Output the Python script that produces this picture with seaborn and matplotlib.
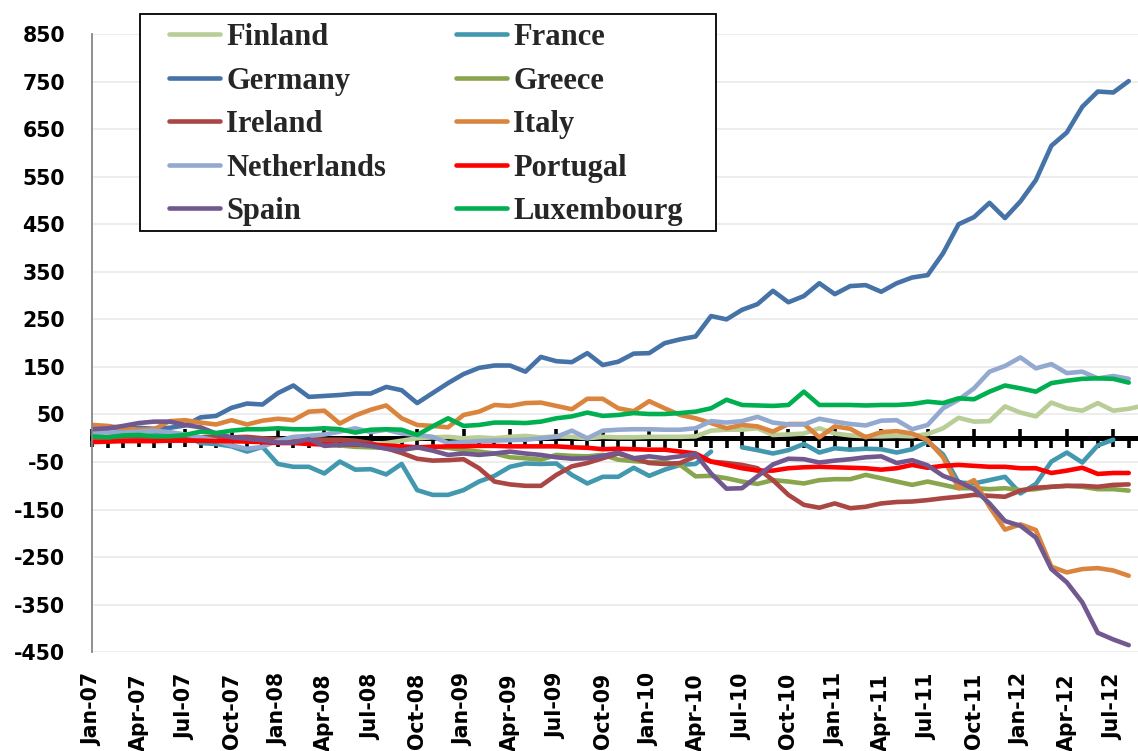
import numpy as np
import pandas as pd
import seaborn as sns
import matplotlib.pyplot as plt
from matplotlib.lines import Line2D
from matplotlib.patches import Rectangle
from matplotlib.ticker import MultipleLocator

nan = np.nan

# series order as drawn (last one ends up on top)
countries = ['Finland', 'France', 'Germany', 'Greece', 'Ireland', 'Italy',
             'Netherlands', 'Portugal', 'Spain', 'Luxembourg']

# monthly values from Jan-07 (EUR bn)
finland = [-5, -3, -2, 0, 2, 3, 3, 2, 0, -2, -3, -4,
           -5, -5, -8, -12, -15, -15, -12, -10, -5, 0, 2, 3,
           0, 2, 0, 3, 5, 2, 4, 3, 0, 3, 2, 2,
           3, 3, 3, 4, 16, 18, 18, 21, 7, 8, 10, 21,
           10, 6, 4, 4, 5, 4, 9, 21, 43, 35, 36, 67,
           54, 46, 75, 63, 58, 74, 58, 62, 69]
france = [12, 14, 15, 16, 14, 12, 5, -10, -12, -17, -28, -18,
          -54, -60, -60, -74, -49, -66, -65, -76, -54, -109, -119, -119,
          -109, -91, -79, -60, -53, -54, -53, -77, -95, -81, -81, -62,
          -79, -66, -56, -54, -28, nan, -19, -25, -32, -25, -12, -30,
          -21, -24, -22, -23, -30, -23, -7, -34, -93, -95, -88, -81,
          -116, -96, -49, -30, -51, -15, -3, nan]
germany = [18, 19, 20, 22, 20, 22, 27, 44, 47, 64, 73, 71,
           95, 111, 87, 89, 91, 94, 94, 108, 101, 74, 95, 116,
           135, 148, 153, 153, 140, 171, 162, 160, 179, 154, 161, 178,
           179, 200, 208, 214, 257, 250, 270, 282, 310, 286, 299, 326,
           303, 320, 322, 308, 326, 338, 343, 389, 450, 465, 495, 463,
           498, 543, 615, 643, 697, 729, 727, 751]
greece = [-5, -5, -4, -3, -2, -2, -3, -5, -5, -6, -5, -5,
          -8, -8, -10, -12, -15, -18, -19, -20, -22, -20, -18, -20,
          -25, -28, -32, -40, -42, -45, -35, -37, -38, -35, -45, -48,
          -50, -50, -56, -80, -79, -84, -91, -96, -88, -91, -95, -88,
          -86, -86, -77, -84, -91, -98, -91, -98, -105, -105, -107, -105,
          -109, -107, -102, -100, -102, -107, -107, -110]
ireland = [2, 3, 4, 3, 2, 2, 3, 2, 3, 2, 3, 0,
           -2, -3, -2, -3, -3, -5, -10, -21, -31, -43, -47, -46,
           -44, -63, -91, -97, -100, -100, -77, -59, -52, -42, -32, -42,
           -52, -54, -52, -38, -49, -52, -56, -63, -88, -119, -140, -146,
           -137, -147, -144, -137, -134, -133, -130, -126, -123, -119, -121, -123,
           -110, -104, -102, -100, -100, -102, -98, -97]
italy = [28, 26, 21, 18, 19, 36, 38, 33, 29, 38, 29, 37,
         41, 38, 56, 58, 31, 48, 60, 69, 42, 28, 26, 23,
         49, 56, 70, 68, 74, 75, 68, 61, 83, 83, 63, 57,
         78, 63, 49, 42, 32, 21, 28, 25, 14, 30, 30, 2,
         25, 20, 2, 13, 15, 10, -4, -40, -105, -88, -144, -192,
         -181, -193, -270, -282, -275, -273, -278, -289]
netherlands = [12, 13, 12, 14, 16, 13, 8, 2, -5, -15, -22, -18,
               -5, 3, 5, 8, 14, 21, 13, 18, 10, 7, 3, -10,
               -8, -6, -5, -4, -3, 0, 3, 16, 0, 16, 18, 19,
               19, 18, 18, 21, 36, 33, 36, 45, 33, 29, 29, 41,
               35, 30, 27, 37, 38, 19, 28, 63, 81, 105, 140, 152,
               170, 147, 156, 137, 140, 126, 131, 125]
portugal = [-8, -7, -6, -6, -6, -5, -5, -5, -6, -6, -7, -8,
            -10, -10, -12, -13, -13, -13, -14, -15, -17, -19, -18, -17,
            -17, -16, -16, -17, -17, -17, -17, -19, -20, -23, -22, -23,
            -24, -24, -28, -32, -49, -56, -63, -68, -68, -63, -61, -60,
            -61, -62, -63, -66, -63, -56, -62, -58, -56, -58, -60, -60,
            -63, -63, -73, -68, -62, -75, -73, -73]
spain = [19, 21, 26, 32, 35, 35, 28, 23, 10, 2, -1, -4,
         -9, -9, -2, -16, -14, -12, -16, -22, -25, -19, -26, -35,
         -32, -35, -32, -28, -32, -35, -40, -43, -42, -37, -30, -42,
         -38, -42, -38, -33, -74, -106, -105, -80, -55, -43, -44, -51,
         -47, -44, -40, -38, -52, -46, -57, -79, -91, -107, -137, -174,
         -184, -209, -275, -303, -345, -409, -423, -435]
luxembourg = [4, 2, 6, 7, 4, 4, 7, 14, 11, 16, 19, 19,
              21, 19, 19, 21, 19, 12, 18, 19, 18, 7, 25, 42,
              26, 28, 33, 33, 32, 35, 42, 46, 54, 47, 49, 53,
              51, 51, 53, 56, 63, 81, 70, 69, 68, 70, 98, 70,
              70, 70, 69, 70, 70, 72, 77, 74, 84, 82, 98, 111,
              105, 98, 116, 121, 125, 126, 125, 117]

tick_labels = ['Jan-07', 'Apr-07', 'Jul-07', 'Oct-07',
               'Jan-08', 'Apr-08', 'Jul-08', 'Oct-08',
               'Jan-09', 'Apr-09', 'Jul-09', 'Oct-09',
               'Jan-10', 'Apr-10', 'Jul-10', 'Oct-10',
               'Jan-11', 'Apr-11', 'Jul-11', 'Oct-11',
               'Jan-12', 'Apr-12', 'Jul-12']

palette = {'Finland': '#B9CD96', 'France': '#4198AF', 'Germany': '#4572A7',
           'Greece': '#89A54E', 'Ireland': '#AA4643', 'Italy': '#DB843D',
           'Netherlands': '#93A9CF', 'Portugal': '#FF0000', 'Spain': '#71588F',
           'Luxembourg': '#00B050'}

series = dict(zip(countries, [finland, france, germany, greece, ireland, italy,
                              netherlands, portugal, spain, luxembourg]))

# long format, a new segment after every gap so the line breaks there
rows = []
for name, vals in series.items():
    seg = 0
    for i, v in enumerate(vals):
        if np.isnan(v):
            seg += 1
            continue
        rows.append((name, i, v, seg))
df = pd.DataFrame(rows, columns=['country', 'month', 'balance', 'seg'])

sns.set_style('white')
plt.rcParams['lines.solid_capstyle'] = 'round'
plt.rcParams['lines.solid_joinstyle'] = 'round'
plt.rcParams['axes.unicode_minus'] = False

W, H = 1138, 751
fig = plt.figure(figsize=(W / 100, H / 100), dpi=100)
ax = fig.add_axes([92.3 / W, (H - 652.3) / H, (W - 92.3) / W, (652.3 - 34) / H])

sns.lineplot(data=df, x='month', y='balance', hue='country', units='seg',
             estimator=None, hue_order=countries, palette=palette,
             linewidth=3.3, legend=False, ax=ax)

ax.set_xlim(0, 67.6)
ax.set_ylim(-450, 850)
ax.set_yticks(np.arange(-450, 851, 100))
ax.set_xticks(np.arange(0, 67, 3))
ax.set_xticklabels(tick_labels)
ax.set_xlabel('')
ax.set_ylabel('')

tick_font = dict(family='DejaVu Sans', weight='bold', size=14.8)
for lab in ax.get_xticklabels() + ax.get_yticklabels():
    lab.set_fontproperties(tick_font)
    lab.set_color('black')
ax.tick_params(axis='x', length=0, pad=15, labelrotation=90)
ax.tick_params(axis='y', direction='out', length=6.5, width=1.2,
               color='#868686', pad=13)

for s in ['top', 'right', 'bottom']:
    ax.spines[s].set_visible(False)
ax.spines['left'].set_color('#868686')
ax.spines['left'].set_linewidth(1.3)

ax.grid(axis='y', color='#ECECEC', linewidth=1.3)
ax.grid(axis='x', visible=False)
ax.set_axisbelow(True)

# black category axis crossing at zero
zero_pos = 450 / 1300
sec = ax.secondary_xaxis(zero_pos)
sec.spines['bottom'].set_linewidth(3.6)
sec.spines['bottom'].set_color('black')
sec.xaxis.set_major_locator(MultipleLocator(3))
sec.xaxis.set_minor_locator(MultipleLocator(1))
sec.tick_params(axis='x', which='major', direction='inout', length=12.5,
                width=2.6, color='black', labelbottom=False)
sec.tick_params(axis='x', which='minor', direction='out', length=7,
                width=2.6, color='black', labelbottom=False)

# legend box
fig.patches.append(Rectangle((139.5 / W, 1 - 231 / H), (716 - 139.5) / W,
                             (231 - 14) / H, transform=fig.transFigure,
                             facecolor='white', edgecolor='black',
                             linewidth=1.3, zorder=3))
legend_order = ['Finland', 'Germany', 'Ireland', 'Netherlands', 'Spain',
                'France', 'Greece', 'Italy', 'Portugal', 'Luxembourg']
handles = [Line2D([], [], color=palette[c], linewidth=3.3) for c in legend_order]
fig.legend(handles, legend_order, loc='upper left',
           bbox_to_anchor=(169 / W, 1 - 23 / H), ncol=2, frameon=False,
           prop=dict(family='Liberation Serif', weight='bold', size=22),
           handlelength=1.67, handletextpad=0.2, columnspacing=2.3,
           labelspacing=0.475, borderpad=0, borderaxespad=0)

fig.savefig('out.png', dpi=100)
